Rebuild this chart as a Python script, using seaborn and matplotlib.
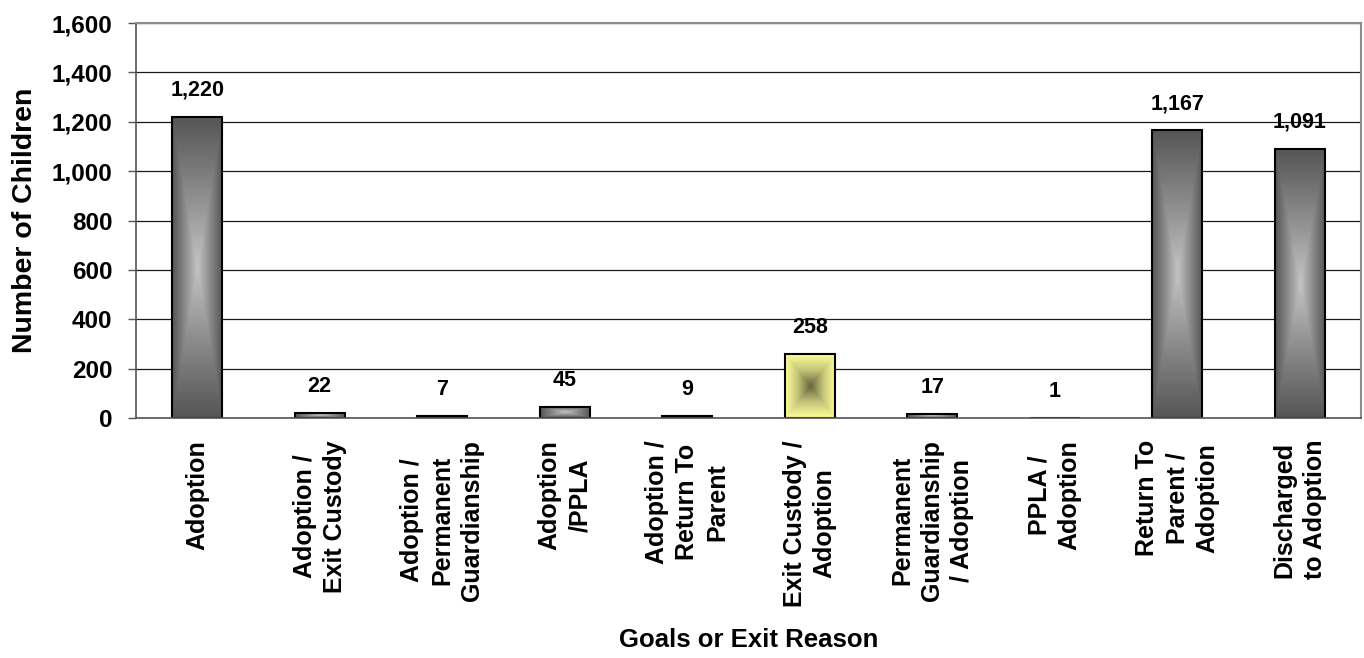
import numpy as np
import matplotlib
matplotlib.use("Agg")
import matplotlib.pyplot as plt
from matplotlib.colors import LinearSegmentedColormap
import seaborn as sns

# Data
categories = [
    "Adoption",
    "Adoption /\nExit Custody",
    "Adoption /\nPermanent\nGuardianship",
    "Adoption\n/PPLA",
    "Adoption /\nReturn To\nParent",
    "Exit Custody /\nAdoption",
    "Permanent\nGuardianship\n/ Adoption",
    "PPLA /\nAdoption",
    "Return To\nParent /\nAdoption",
    "Discharged\nto Adoption",
]
children = [1220, 22, 7, 45, 9, 258, 17, 1, 1167, 1091]
highlight = "Exit Custody /\nAdoption"
y_ticks = [0, 200, 400, 600, 800, 1000, 1200, 1400, 1600]

sns.set_style("white")
plt.rcParams["font.family"] = ["Liberation Sans", "DejaVu Sans"]
plt.rcParams["font.weight"] = "bold"
plt.rcParams["text.color"] = "black"
plt.rcParams["axes.labelcolor"] = "black"
plt.rcParams["xtick.color"] = "black"
plt.rcParams["ytick.color"] = "black"

fig = plt.figure(figsize=(13.64, 6.58), dpi=100)
ax = fig.add_axes([136 / 1364, 1 - 418 / 658, (1361 - 136) / 1364, (418 - 23) / 658])

sns.barplot(x=categories, y=children, ax=ax, width=0.41, color="gray",
            edgecolor="black", linewidth=1.5, order=categories)

# Rectangular "from centre" gradient fill for each bar
gray_cmap = LinearSegmentedColormap.from_list("g", ["#c4c4c4", "#8a8a8a", "#555555"])
yellow_cmap = LinearSegmentedColormap.from_list("y", ["#666640", "#c4c47a", "#ffff99"])
nx, ny = 120, 400
u = np.linspace(-1, 1, nx)
v = np.linspace(-1, 1, ny)
U, V = np.meshgrid(u, v)
dist = np.maximum(np.abs(U), np.abs(V))

for cat, patch in zip(categories, ax.patches):
    x0, w, h = patch.get_x(), patch.get_width(), patch.get_height()
    cmap = yellow_cmap if cat == highlight else gray_cmap
    im = ax.imshow(dist, cmap=cmap, vmin=0, vmax=1, aspect="auto",
                   extent=(x0, x0 + w, 0, h), origin="lower",
                   interpolation="bilinear", zorder=0.9)
    im.set_clip_path(patch)
    patch.set_facecolor("none")
    patch.set_zorder(1)

# Value labels above bars
for patch, val in zip(ax.patches, children):
    ax.annotate(f"{val:,}", (patch.get_x() + patch.get_width() / 2, patch.get_height()),
                xytext=(0, 19), textcoords="offset points", ha="center", va="center",
                fontsize=15.5, fontweight="bold", color="black")

ax.set_xlim(-0.5, len(categories) - 0.5)
ax.set_ylim(0, 1600)
ax.set_yticks(y_ticks)
ax.set_yticklabels([f"{t:,}" for t in y_ticks], fontsize=17.5, fontweight="bold")

ax.set_axisbelow(True)
ax.yaxis.grid(True, color="#1a1a1a", linewidth=0.9)
ax.xaxis.grid(False)

ax.set_xticks(range(len(categories)))
ax.set_xticklabels(categories, rotation=90, ha="center", va="top",
                   multialignment="center", fontsize=18, fontweight="bold",
                   linespacing=1.32)
ax.set_xticks(np.arange(-0.5, len(categories)), minor=True)
ax.tick_params(axis="x", which="major", length=0, pad=15.8)
ax.tick_params(axis="x", which="minor", length=6, width=1, color="#555555", direction="out")
ax.tick_params(axis="y", which="major", length=6, width=1, color="#555555",
               direction="out", pad=11, left=True)

for side in ["left", "bottom"]:
    ax.spines[side].set_color("#555555")
    ax.spines[side].set_linewidth(1.2)
for side in ["top", "right"]:
    ax.spines[side].set_color("#8c8c8c")
    ax.spines[side].set_linewidth(1.5)

ax.set_xlabel("Goals or Exit Reason", fontsize=18.5, fontweight="bold")
ax.set_ylabel("Number of Children", fontsize=20.5, fontweight="bold")
ax.xaxis.set_label_coords(0.5, (418 - 640) / 395)
ax.xaxis.label.set_va("center")
ax.yaxis.set_label_coords((25 - 136) / 1225, 0.5)
ax.yaxis.label.set_va("center")

fig.savefig("out.png", dpi=100)
